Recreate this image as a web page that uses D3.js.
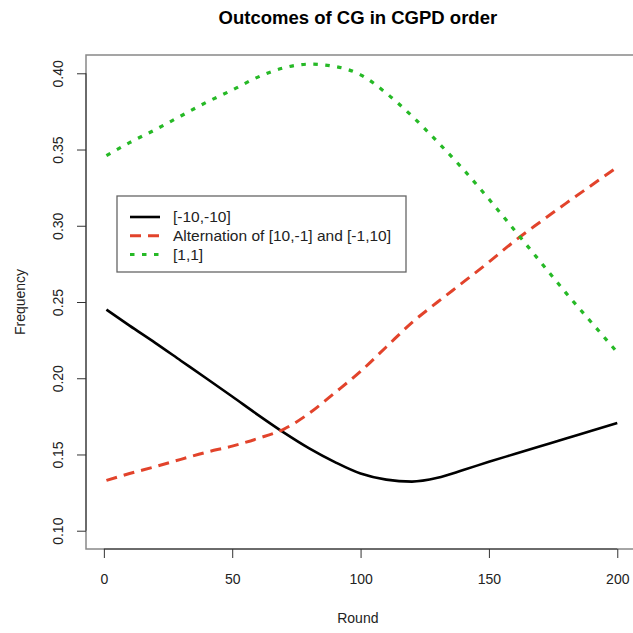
<!DOCTYPE html>
<html>
<head>
<meta charset="utf-8">
<script src="https://cdn.jsdelivr.net/npm/d3@7"></script>
<style>
    body { margin: 0; background: #fff; }
    svg { display: block; font-family: "Liberation Sans", Arial, sans-serif; }
    .title { font-weight: bold; font-size: 18.5px; }
    .tick text { font-size: 14px; fill: #222; }
    .axis-title { font-size: 14px; fill: #222; }
    .legend-text { font-size: 15.5px; fill: #222; }
</style>
</head>
<body>
<script>
// rounds sampled off the picture, then the three outcome series
let rounds = [1, 10, 20, 30, 40, 50, 60, 70, 80, 90, 100, 110, 120, 130, 140, 150, 160, 170, 180, 190, 200]

let minusTen = [0.245, 0.2345, 0.2232, 0.2115, 0.1998, 0.188, 0.176, 0.1645, 0.154, 0.145, 0.1375,
                0.1335, 0.1322, 0.1347, 0.1398, 0.1452, 0.1503, 0.1554, 0.1605, 0.1655, 0.1706]

let alternation = [0.133, 0.1375, 0.142, 0.1468, 0.1515, 0.1555, 0.1605, 0.1665, 0.177, 0.1905, 0.2045,
                   0.2205, 0.2365, 0.25, 0.263, 0.2762, 0.29, 0.3025, 0.3147, 0.3266, 0.3385]

let oneOne = [0.346, 0.3545, 0.363, 0.372, 0.381, 0.389, 0.3975, 0.4035, 0.406, 0.4045, 0.399,
              0.387, 0.372, 0.355, 0.337, 0.3175, 0.297, 0.2765, 0.256, 0.2365, 0.217]

let seriesNames = ['[-10,-10]', 'Alternation of [10,-1] and [-1,10]', '[1,1]']

let xTicks = [0, 50, 100, 150, 200]
let yTicks = [0.10, 0.15, 0.20, 0.25, 0.30, 0.35, 0.40]

// styling per series (R-ish: solid, dashed, dotted)
let seriesStyle = [
    {color: '#000000', width: 2.6, dash: null},
    {color: '#e2432b', width: 3, dash: '11,7'},
    {color: '#26b926', width: 3.2, dash: '4.5,7.5'},
]

let svgWidth = 633
let svgHeight = 633

let svg = d3.select('body').append('svg')
            .attr('width', svgWidth)
            .attr('height', svgHeight)

// plot region, the right edge runs off the page like in the original
let margin = {top: 55, left: 86, bottom: 84}
let plotRight = 637.7
let plotBottom = svgHeight - margin.bottom

// R pads the data range by 4% on each side
let xPad = (200 - 1) * 0.04
let xScale = d3.scaleLinear()
               .domain([1 - xPad, 200 + xPad])
               .range([margin.left, plotRight])

let yScale = d3.scaleLinear()
               .domain([0.088, 0.412])
               .range([plotBottom, margin.top])

// series as row objects for the line generator
let allSeries = [minusTen, alternation, oneOne].map((vals, i) => ({
    name: seriesNames[i],
    style: seriesStyle[i],
    points: rounds.map((r, j) => ({round: r, value: vals[j]}))
}))

let line = d3.line()
             .x(d => xScale(d.round))
             .y(d => yScale(d.value))
             .curve(d3.curveMonotoneX)

svg.append('g').selectAll('path')
    .data(allSeries)
    .join('path')
    .attr('d', d => line(d.points))
    .style('fill', 'none')
    .style('stroke', d => d.style.color)
    .style('stroke-width', d => d.style.width)
    .style('stroke-dasharray', d => d.style.dash)

// box around plot (gray)
svg.append('rect')
    .attr('x', margin.left)
    .attr('y', margin.top)
    .attr('width', plotRight - margin.left)
    .attr('height', plotBottom - margin.top)
    .style('fill', 'none')
    .style('stroke', '#888')
    .style('stroke-width', 1.5)

// x axis
let xAxis = d3.axisBottom(xScale)
              .tickValues(xTicks)
              .tickSize(9)
              .tickPadding(16)
              .tickFormat(d3.format('d'))
let xg = svg.append('g')
            .attr('transform', 'translate(0,' + plotBottom + ')')
            .call(xAxis)
xg.select('.domain').remove()
xg.selectAll('.tick line').style('stroke', '#333')
xg.append('line')
    .attr('x1', xScale(xTicks[0]))
    .attr('x2', xScale(xTicks[xTicks.length - 1]))
    .style('stroke', '#333')

// y axis, labels turned sideways like R
let yAxis = d3.axisLeft(yScale)
              .tickValues(yTicks)
              .tickSize(9)
              .tickFormat(d3.format('.2f'))
let yg = svg.append('g')
            .attr('transform', 'translate(' + margin.left + ',0)')
            .call(yAxis)
yg.select('.domain').remove()
yg.selectAll('.tick line').style('stroke', '#333')
yg.selectAll('.tick text')
    .attr('transform', 'rotate(-90)')
    .attr('x', 0)
    .attr('y', -23)
    .attr('dy', 0)
    .attr('text-anchor', 'middle')
yg.append('line')
    .attr('y1', yScale(yTicks[0]))
    .attr('y2', yScale(yTicks[yTicks.length - 1]))
    .style('stroke', '#333')

// titles
let plotMidX = (margin.left + plotRight) / 2
let plotMidY = (margin.top + plotBottom) / 2

svg.append('text')
    .classed('title', true)
    .attr('x', plotMidX - 4)
    .attr('y', 24)
    .attr('text-anchor', 'middle')
    .text('Outcomes of CG in CGPD order')

svg.append('text')
    .classed('axis-title', true)
    .attr('x', plotMidX - 4)
    .attr('y', 623)
    .attr('text-anchor', 'middle')
    .text('Round')

svg.append('text')
    .classed('axis-title', true)
    .attr('transform', 'translate(25,' + plotMidY + ') rotate(-90)')
    .attr('text-anchor', 'middle')
    .text('Frequency')

// legend
let legend = svg.append('g').attr('transform', 'translate(117,196)')
legend.append('rect')
    .attr('width', 289)
    .attr('height', 76)
    .style('fill', '#fff')
    .style('stroke', '#666')
    .style('stroke-width', 1.3)

let rowY = d3.scalePoint().domain(seriesNames).range([21, 58.5])

let rows = legend.selectAll('.legend-row')
    .data(allSeries)
    .join('g')
    .classed('legend-row', true)
    .attr('transform', d => 'translate(0,' + rowY(d.name) + ')')

rows.append('line')
    .attr('x1', 13)
    .attr('x2', 43)
    .style('stroke', d => d.style.color)
    .style('stroke-width', d => d.style.width)
    .style('stroke-dasharray', d => d.style.dash)

rows.append('text')
    .classed('legend-text', true)
    .attr('x', 56)
    .attr('dy', '0.35em')
    .text(d => d.name)
</script>
</body>
</html>
